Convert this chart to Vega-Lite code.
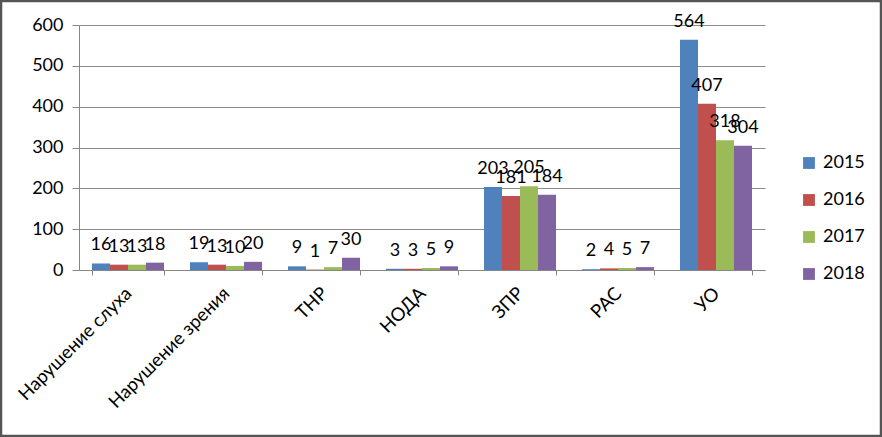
{
  "$schema": "https://vega.github.io/schema/vega-lite/v6.json",
  "width": 880,
  "height": 435,
  "padding": 1,
  "autosize": {"type": "none"},
  "background": "white",
  "config": {
    "view": {"stroke": "#555555", "strokeWidth": 2.5},
    "font": "Lato"
  },
  "data": {
    "values": [
      {"cat": "Нарушение слуха", "year": "2015", "value": 16},
      {"cat": "Нарушение слуха", "year": "2016", "value": 13},
      {"cat": "Нарушение слуха", "year": "2017", "value": 13},
      {"cat": "Нарушение слуха", "year": "2018", "value": 18},
      {"cat": "Нарушение зрения", "year": "2015", "value": 19},
      {"cat": "Нарушение зрения", "year": "2016", "value": 13},
      {"cat": "Нарушение зрения", "year": "2017", "value": 10},
      {"cat": "Нарушение зрения", "year": "2018", "value": 20},
      {"cat": "ТНР", "year": "2015", "value": 9},
      {"cat": "ТНР", "year": "2016", "value": 1},
      {"cat": "ТНР", "year": "2017", "value": 7},
      {"cat": "ТНР", "year": "2018", "value": 30},
      {"cat": "НОДА", "year": "2015", "value": 3},
      {"cat": "НОДА", "year": "2016", "value": 3},
      {"cat": "НОДА", "year": "2017", "value": 5},
      {"cat": "НОДА", "year": "2018", "value": 9},
      {"cat": "ЗПР", "year": "2015", "value": 203},
      {"cat": "ЗПР", "year": "2016", "value": 181},
      {"cat": "ЗПР", "year": "2017", "value": 205},
      {"cat": "ЗПР", "year": "2018", "value": 184},
      {"cat": "РАС", "year": "2015", "value": 2},
      {"cat": "РАС", "year": "2016", "value": 4},
      {"cat": "РАС", "year": "2017", "value": 5},
      {"cat": "РАС", "year": "2018", "value": 7},
      {"cat": "УО", "year": "2015", "value": 564},
      {"cat": "УО", "year": "2016", "value": 407},
      {"cat": "УО", "year": "2017", "value": 318},
      {"cat": "УО", "year": "2018", "value": 304}
    ]
  },
  "encoding": {
    "x": {
      "field": "cat",
      "type": "nominal",
      "sort": null,
      "scale": {"range": [78, 764], "paddingInner": 0.265, "paddingOuter": 0.1325},
      "axis": {
        "title": null,
        "offset": -166,
        "labelAngle": -45,
        "labelAlign": "right",
        "labelBaseline": "middle",
        "labelFontSize": 18.5,
        "labelColor": "#000000",
        "labelPadding": 15,
        "tickBand": "extent",
        "tickSize": 5,
        "tickColor": "#868686",
        "domainColor": "#868686",
        "labelLimit": 300
      }
    },
    "xOffset": {"field": "year", "type": "nominal", "scale": {"paddingInner": 0, "paddingOuter": 0}},
    "y": {
      "field": "value",
      "type": "quantitative",
      "scale": {"domain": [0, 600], "range": [269, 24], "nice": false},
      "axis": {
        "title": null,
        "offset": -78,
        "values": [0, 100, 200, 300, 400, 500, 600],
        "grid": true,
        "gridColor": "#8c8c8c",
        "tickSize": 7,
        "tickColor": "#868686",
        "domainColor": "#868686",
        "labelFontSize": 18,
        "labelColor": "#000000",
        "labelPadding": 9
      }
    }
  },
  "layer": [
    {
      "mark": {"type": "bar"},
      "encoding": {
        "color": {
          "field": "year",
          "type": "nominal",
          "scale": {"domain": ["2015", "2016", "2017", "2018"], "range": ["#4F81BD", "#C0504D", "#9BBB59", "#8064A2"]},
          "legend": {
            "title": null,
            "orient": "none",
            "legendX": 799,
            "legendY": 153,
            "symbolType": "square",
            "symbolSize": 140,
            "symbolStrokeWidth": 0,
            "labelFontSize": 18,
            "labelColor": "#000000",
            "labelOffset": 5,
            "rowPadding": 19
          }
        }
      }
    },
    {
      "mark": {"type": "text", "baseline": "alphabetic", "dy": -13, "fontSize": 18, "color": "#000000"},
      "encoding": {"text": {"field": "value", "type": "quantitative"}}
    }
  ]
}
